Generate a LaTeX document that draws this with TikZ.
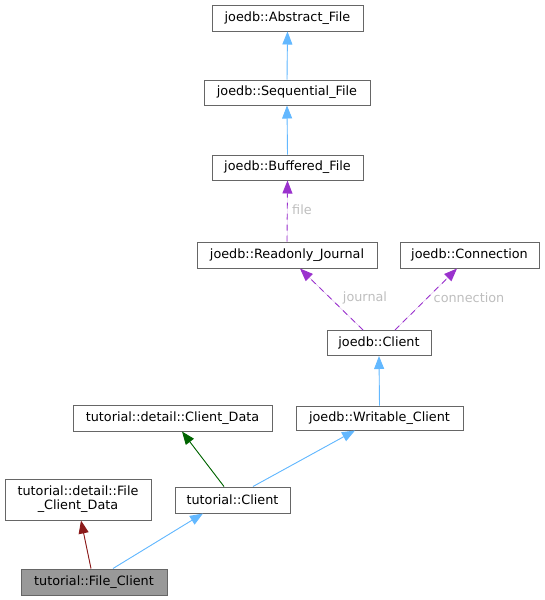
\documentclass[tikz,border=0pt]{standalone}
\usepackage{fontspec}
\setmainfont{DejaVu Sans}
\usetikzlibrary{arrows.meta}
\definecolor{boxline}{HTML}{666666}
\definecolor{inhblue}{HTML}{63B8FF}
\definecolor{usepurple}{HTML}{9A32CD}
\definecolor{prgreen}{HTML}{006400}
\definecolor{privred}{HTML}{8B1A1A}
\definecolor{lblgray}{HTML}{BEBEBE}
\definecolor{hifill}{HTML}{999999}
\tikzset{
  cls/.style={draw=boxline, line width=1pt, fill=white, inner sep=0pt, align=center,
    font=\fontsize{12.8}{14}\selectfont, minimum height=25pt},
  tip/.style={-{Triangle[length=13pt,width=10pt]}},
  inh/.style={tip, draw=inhblue, fill=inhblue, line width=0.9pt},
  usesrel/.style={tip, draw=usepurple, fill=usepurple, line width=0.9pt, dash pattern=on 6pt off 5pt},
  prot/.style={tip, draw=prgreen, fill=prgreen, line width=0.9pt},
  priv/.style={tip, draw=privred, fill=privred, line width=0.9pt},
  lbl/.style={text=lblgray, font=\fontsize{12.8}{14}\selectfont, inner sep=0pt}
}
\begin{document}
\begin{tikzpicture}[x=1pt,y=-1pt]
\useasboundingbox (0,0) rectangle (545,600);
\node[cls, minimum width=151pt, minimum height=26pt] (AF) at (287.5,18) {joedb::Abstract\_File};
\node[cls, minimum width=166pt] (SF) at (287,92.5) {joedb::Sequential\_File};
\node[cls, minimum width=151pt] (BF) at (287.5,167.5) {joedb::Buffered\_File};
\node[cls, minimum width=180pt, minimum height=26pt] (RJ) at (287,255) {joedb::Readonly\_Journal};
\node[cls, minimum width=139pt, minimum height=26pt] (CO) at (469.5,255) {joedb::Connection};
\node[cls, minimum width=104pt] (CL) at (379,343) {joedb::Client};
\node[cls, minimum width=167pt, minimum height=24pt] (WC) at (379.5,418) {joedb::Writable\_Client};
\node[cls, minimum width=199pt, minimum height=26pt] (CD) at (172.5,418) {tutorial::detail::Client\_Data};
\node[cls, minimum width=146pt, minimum height=41pt] (FCD) at (78,499.5) {tutorial::detail::File\\\_Client\_Data};
\node[cls, minimum width=115pt, minimum height=26pt] (TC) at (232.5,500) {tutorial::Client};
\node[cls, minimum width=146pt, minimum height=26pt, fill=hifill] (FC) at (94,582) {tutorial::File\_Client};

\draw[inh] (SF.north) -- (AF.south);
\draw[inh] (BF.north) -- (SF.south);
\draw[usesrel] (RJ.north) -- (BF.south);
\draw[usesrel] ([xshift=-16pt]CL.north) -- ([xshift=13pt]RJ.south);
\draw[usesrel] ([xshift=16pt]CL.north) -- ([xshift=-12.5pt]CO.south);
\draw[inh] (WC.north) -- (CL.south);
\draw[prot] ([xshift=-8.5pt]TC.north) -- ([xshift=9.5pt]CD.south);
\draw[inh] ([xshift=20.5pt]TC.north) -- ([xshift=-24.5pt]WC.south);
\draw[priv] ([xshift=-3pt]FC.north) -- ([xshift=3pt]FCD.south);
\draw[inh] ([xshift=19pt]FC.north) -- ([xshift=-29.5pt]TC.south);

\node[lbl, anchor=west] (lf) at (292,210) {file};
\node[lbl] (lj) at (365,298) {journal};
\node[lbl] (lc) at (469,298) {connection};
\end{tikzpicture}
\end{document}
